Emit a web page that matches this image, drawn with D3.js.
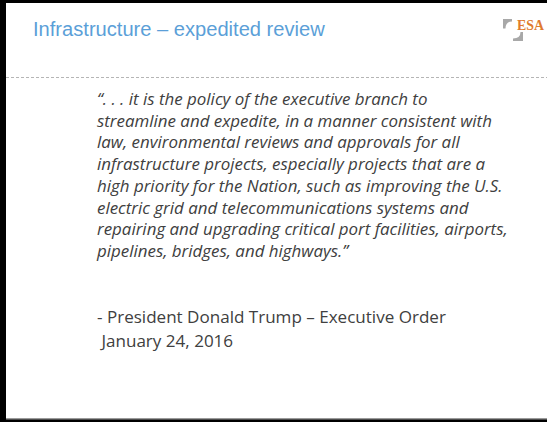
<!DOCTYPE html>
<html>
<head>
<meta charset="utf-8">
<script src="https://cdn.jsdelivr.net/npm/d3@7"></script>
<style>
  html, body { margin: 0; padding: 0; background: #fff; }
  svg { display: block; }
  .title { font-family: "Liberation Sans", Arial, sans-serif; fill: #5b9fd8; }
  .quote { font-family: "Open Sans", sans-serif; font-style: italic; fill: #404040; }
  .cite { font-family: "Open Sans", sans-serif; fill: #404040; }
</style>
</head>
<body>
<svg width="547" height="422"></svg>
<script>
var titleText = "Infrastructure \u2013 expedited review";
var logoText = "ESA";

var quoteLines = [
    "\u201C. . . it is the policy of the executive branch to",
    "streamline and expedite, in a manner consistent with",
    "law, environmental reviews and approvals for all",
    "infrastructure projects, especially projects that are a",
    "high priority for the Nation, such as improving the U.S.",
    "electric grid and telecommunications systems and",
    "repairing and upgrading critical port facilities, airports,",
    "pipelines, bridges, and highways.\u201D"
];

var citeLines = [
    "- President Donald Trump \u2013 Executive Order",
    " January 24, 2016"
];

var svg = d3.select("svg"),
    W = +svg.attr("width"),
    H = +svg.attr("height");

// slide frame
svg.append("rect").attr("x", 0).attr("y", 0).attr("width", W).attr("height", H).attr("fill", "#fff");
svg.append("rect").attr("x", 0).attr("y", 0).attr("width", W).attr("height", 3).attr("fill", "#000");
svg.append("rect").attr("x", 0).attr("y", 0).attr("width", 6).attr("height", H).attr("fill", "#000");
svg.append("rect").attr("x", 0).attr("y", H - 3).attr("width", W).attr("height", 3).attr("fill", "#000");
svg.append("rect").attr("x", 6).attr("y", H - 4).attr("width", W).attr("height", 1.5).attr("fill", "#9a9a9a");

// header
var title = svg.append("text")
    .attr("class", "title")
    .attr("x", 33)
    .attr("y", 36)
    .style("font-size", "20px")
    .text(titleText);
var tw = title.node().getComputedTextLength();
title.style("font-size", (20 * 292 / tw) + "px");

svg.append("line")
    .attr("x1", 6).attr("x2", W)
    .attr("y1", 77.5).attr("y2", 77.5)
    .attr("stroke", "#b5b5b5")
    .attr("stroke-dasharray", "3,2");

// logo
var logo = svg.append("g").attr("transform", "translate(503,19)");
logo.append("path").attr("d", "M0,0 L9,0 L9,2.5 Q2.5,2.5 2.5,9.5 L0,9.5 Z").attr("fill", "#a8a8a8");
logo.append("path").attr("d", "M20,22 L20,13 L17.5,13 Q17.5,19.5 10,19.5 L10,22 Z").attr("fill", "#a8a8a8");
logo.append("text")
    .attr("x", 14).attr("y", 11)
    .style("font-family", "'Liberation Serif', serif")
    .style("font-size", "15px")
    .style("font-weight", "bold")
    .attr("fill", "#e07b2e")
    .attr("textLength", 27)
    .attr("lengthAdjust", "spacingAndGlyphs")
    .text(logoText);

// quote
var yq = d3.scaleLinear().domain([0, quoteLines.length - 1]).range([105, 257]);

var qt = svg.append("g").selectAll("text")
    .data(quoteLines)
    .join("text")
    .attr("class", "quote")
    .attr("x", 97)
    .attr("y", function(d, i) { return yq(i); })
    .style("font-size", "15px")
    .text(function(d) { return d; });

// fit widest line to the reference width
var widest = d3.max(qt.nodes(), function(n) { return n.getComputedTextLength(); });
qt.style("font-size", (15 * 411 / widest) + "px");

// attribution
var yc = d3.scaleLinear().domain([0, 1]).range([323, 347]);
var ct = svg.append("g").selectAll("text")
    .data(citeLines)
    .join("text")
    .attr("class", "cite")
    .attr("x", 97)
    .attr("y", function(d, i) { return yc(i); })
    .attr("xml:space", "preserve")
    .style("white-space", "pre")
    .style("font-size", "17px")
    .text(function(d) { return d; });

var cw = ct.nodes()[0].getComputedTextLength();
ct.style("font-size", (17 * 349 / cw) + "px");
</script>
</body>
</html>
